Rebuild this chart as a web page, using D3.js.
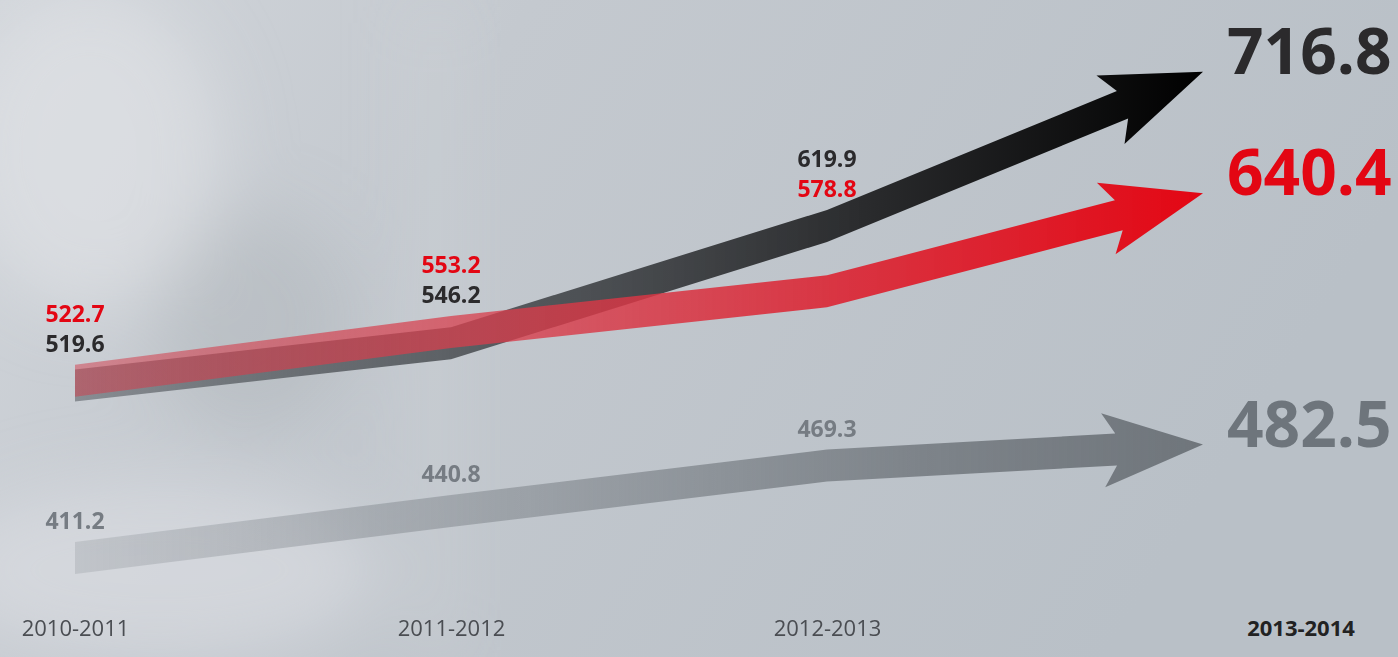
<!DOCTYPE html>
<html>
<head>
<meta charset="utf-8">
<script src="https://cdn.jsdelivr.net/npm/d3@7"></script>
<style>
  html, body { margin: 0; padding: 0; background: #c3c8ce; }
  svg { display: block; }
</style>
</head>
<body>
<svg id="chart"></svg>
<script>
// data
const periods = ["2010-2011", "2011-2012", "2012-2013", "2013-2014"];
const blackValues = [519.6, 546.2, 619.9, 716.8];
const redValues = [522.7, 553.2, 578.8, 640.4];
const greyValues = [411.2, 440.8, 469.3, 482.5];

const width = 1398, height = 657;

const series = [
    {key: "grey", values: greyValues, text: "#767c83", big: "#6e757c"},
    {key: "black", values: blackValues, text: "#2b2a2c", big: "#2b2a2c"},
    {key: "red", values: redValues, text: "#e30613", big: "#e30613"}
];

const svg = d3.select("#chart")
    .attr("width", width)
    .attr("height", height);

const defs = svg.append("defs");

// background
const bg = defs.append("linearGradient")
    .attr("id", "bg")
    .attr("x1", 0).attr("y1", 0).attr("x2", 1).attr("y2", 0.3);
bg.append("stop").attr("offset", 0).attr("stop-color", "#d2d6db");
bg.append("stop").attr("offset", 0.35).attr("stop-color", "#c4c9cf");
bg.append("stop").attr("offset", 1).attr("stop-color", "#b9c0c7");

defs.append("filter").attr("id", "blur")
    .append("feGaussianBlur").attr("stdDeviation", 35);

svg.append("rect")
    .attr("width", width).attr("height", height)
    .attr("fill", "url(#bg)");

// soft shapes standing in for the photo behind
const shapes = svg.append("g").attr("filter", "url(#blur)");
shapes.append("ellipse").attr("cx", 250).attr("cy", 320).attr("rx", 100).attr("ry", 110)
    .attr("fill", "#a5abb3").attr("opacity", 0.35);
shapes.append("ellipse").attr("cx", 90).attr("cy", 150).attr("rx", 130).attr("ry", 160)
    .attr("fill", "#e2e5e8").attr("opacity", 0.6);
shapes.append("ellipse").attr("cx", 160).attr("cy", 570).attr("rx", 220).attr("ry", 90)
    .attr("fill", "#dde0e4").attr("opacity", 0.6);
shapes.append("rect").attr("x", 420).attr("y", 0).attr("width", 30).attr("height", height)
    .attr("fill", "#d4d8dc").attr("opacity", 0.5);

// gradients for the arrows
const gradStops = {
    grey: [[0, "#7c8288", 0.22], [0.4, "#767c82", 0.5], [0.75, "#72787e", 0.85], [1, "#6f757b", 1]],
    black: [[0, "#3a3f45", 0.45], [0.35, "#474b4f", 0.85], [0.7, "#2a2b2d", 1], [1, "#000000", 1]],
    red: [[0, "#d23c4b", 0.5], [0.35, "#d83e4c", 0.75], [0.68, "#da2c3a", 0.95], [1, "#e30613", 1]]
};

const x = d3.scalePoint()
    .domain(periods)
    .range([75, 1203]);

const y = d3.scaleLinear()
    .domain([400, 750])
    .range([575.9, 18.9]);

Object.entries(gradStops).forEach(([k, stops]) => {
    const g = defs.append("linearGradient")
        .attr("id", "g-" + k)
        .attr("gradientUnits", "userSpaceOnUse")
        .attr("x1", x.range()[0]).attr("y1", 0)
        .attr("x2", x.range()[1]).attr("y2", 0);
    stops.forEach(s => g.append("stop")
        .attr("offset", s[0]).attr("stop-color", s[1]).attr("stop-opacity", s[2]));
});

const half = 16;

function arrowPath(values) {
    const pts = values.map((v, i) => [x(periods[i]), y(v)]);
    const n = pts.length;
    const tip = pts[n - 1], prev = pts[n - 2];
    const len = Math.hypot(tip[0] - prev[0], tip[1] - prev[1]);
    const u = [(tip[0] - prev[0]) / len, (tip[1] - prev[1]) / len];
    const nv = [u[1], -u[0]];
    const at = (t, s) => [tip[0] + t * u[0] + s * nv[0], tip[1] + t * u[1] + s * nv[1]];
    const shaft = half * u[0];

    // notch point lies on the shaft edge
    const notchT = -87;
    const top = [], bottom = [];
    for (let i = 0; i < n - 1; i++) {
        top.push([pts[i][0], pts[i][1] - half]);
        bottom.push([pts[i][0], pts[i][1] + half]);
    }
    const poly = top.concat([
        at(notchT, shaft),
        at(-100, 37),
        tip,
        at(-100, -37),
        at(notchT, -shaft)
    ], bottom.reverse());
    return "M" + poly.map(p => p.join(",")).join("L") + "Z";
}

svg.append("g")
    .selectAll("path")
    .data(series)
    .join("path")
    .attr("d", d => arrowPath(d.values))
    .attr("fill", d => `url(#g-${d.key})`);

// small value labels, sorted by value at each period
const labelFont = "'Open Sans', sans-serif";
const labels = svg.append("g")
    .attr("font-family", labelFont)
    .attr("font-weight", 700)
    .attr("font-size", 23)
    .attr("text-anchor", "middle");

const upper = series.filter(s => s.key !== "grey");
periods.slice(0, 3).forEach((p, i) => {
    const sorted = upper.slice().sort((a, b) => b.values[i] - a.values[i]);
    const base = y(sorted[0].values[i]) - 29;
    sorted.forEach((s, j) => {
        labels.append("text")
            .attr("x", x(p))
            .attr("y", base - (sorted.length - 1 - j) * 30)
            .attr("fill", s.text)
            .text(s.values[i].toFixed(1));
    });
    const g = series[0];
    labels.append("text")
        .attr("x", x(p))
        .attr("y", y(g.values[i]) - 29)
        .attr("fill", g.text)
        .text(g.values[i].toFixed(1));
});

// big end labels
svg.append("g")
    .attr("font-family", labelFont)
    .attr("font-weight", 700)
    .attr("font-size", 64)
    .selectAll("text")
    .data(series)
    .join("text")
    .attr("x", x(periods[3]) + 24)
    .attr("y", d => y(d.values[3]) + 2)
    .attr("fill", d => d.big)
    .text(d => d.values[3].toFixed(1));

// period axis
const xAxis = d3.axisBottom(x).tickSize(0).tickPadding(0);
const axisG = svg.append("g")
    .attr("transform", `translate(0,${height - 20})`)
    .call(xAxis)
    .call(g => g.select(".domain").remove());

axisG.selectAll("text")
    .attr("font-family", labelFont)
    .attr("font-size", 22)
    .attr("fill", "#4a4d52");

axisG.selectAll(".tick")
    .filter(d => d === periods[3])
    .attr("transform", `translate(${x(periods[3]) + 98},0)`)
    .select("text")
    .attr("font-weight", 700)
    .attr("fill", "#222");
axisG.selectAll(".tick text").attr("y", -17).attr("dy", "0.71em");
</script>
</body>
</html>
